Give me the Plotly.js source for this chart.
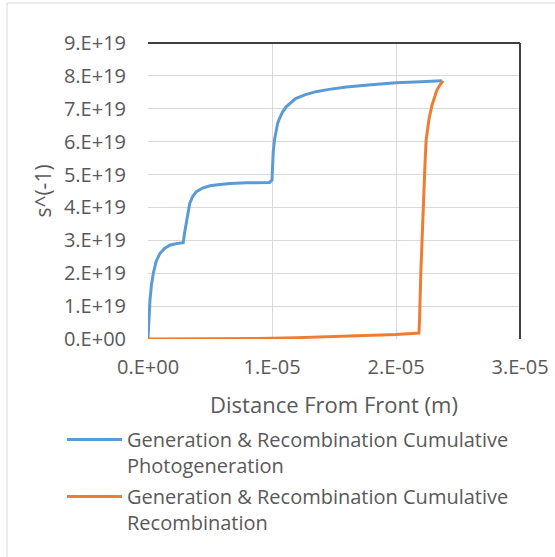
<!DOCTYPE html>
<html>
<head>
<meta charset="utf-8">
<script src="https://cdn.plot.ly/plotly-3.0.1.min.js"></script>
<style>html,body{margin:0;padding:0;background:#fff;}#chart{width:555px;height:557px;}</style>
</head>
<body>
<div id="chart"></div>
<script>
// Distance from front (m) and cumulative rates (s^-1)
const photoX = [0, 0.004e-5, 0.008e-5, 0.016e-5, 0.028e-5, 0.043e-5, 0.065e-5, 0.096e-5, 0.135e-5, 0.18e-5, 0.23e-5, 0.284e-5,
  0.296e-5, 0.31e-5, 0.323e-5, 0.337e-5, 0.36e-5, 0.39e-5, 0.44e-5, 0.5e-5, 0.58e-5, 0.66e-5, 0.8e-5, 0.98e-5,
  1.0e-5, 1.005e-5, 1.01e-5, 1.02e-5, 1.03e-5, 1.045e-5, 1.06e-5, 1.085e-5, 1.114e-5, 1.15e-5, 1.19e-5, 1.27e-5, 1.355e-5, 1.46e-5,
  1.6e-5, 1.8e-5, 2.0e-5, 2.2e-5, 2.37e-5];
const photoY = [0, 0.45e19, 0.8e19, 1.19e19, 1.65e19, 2.0e19, 2.35e19, 2.6e19, 2.76e19, 2.86e19, 2.9e19, 2.93e19,
  3.25e19, 3.6e19, 3.9e19, 4.13e19, 4.33e19, 4.48e19, 4.59e19, 4.66e19, 4.7e19, 4.73e19, 4.75e19, 4.76e19,
  4.83e19, 5.3e19, 5.7e19, 6.05e19, 6.3e19, 6.55e19, 6.7e19, 6.9e19, 7.06e19, 7.18e19, 7.31e19, 7.43e19, 7.52e19, 7.59e19,
  7.66e19, 7.73e19, 7.79e19, 7.82e19, 7.85e19];
const recombX = [0, 0.5e-5, 1.0e-5, 1.2e-5, 1.46e-5, 1.8e-5, 2.0e-5, 2.185e-5, 2.19e-5, 2.2e-5, 2.21e-5, 2.217e-5,
  2.225e-5, 2.233e-5, 2.243e-5, 2.253e-5, 2.265e-5, 2.29e-5, 2.31e-5, 2.33e-5, 2.355e-5, 2.38e-5];
const recombY = [0, 0, 0.02e19, 0.04e19, 0.07e19, 0.11e19, 0.14e19, 0.18e19, 0.6e19, 2.0e19, 3.2e19, 4.02e19,
  4.7e19, 5.24e19, 6.05e19, 6.4e19, 6.66e19, 7.11e19, 7.37e19, 7.57e19, 7.73e19, 7.85e19];
const photoName = 'Generation & Recombination Cumulative<br>Photogeneration';
const recombName = 'Generation & Recombination Cumulative<br>Recombination';
const xTickVals = [0, 1e-5, 2e-5, 3e-5];
const xTickText = ['0.E+00', '1.E-05', '2.E-05', '3.E-05'];
const yTickVals = [0, 1e19, 2e19, 3e19, 4e19, 5e19, 6e19, 7e19, 8e19, 9e19];
const yTickText = ['0.E+00', '1.E+19', '2.E+19', '3.E+19', '4.E+19', '5.E+19', '6.E+19', '7.E+19', '8.E+19', '9.E+19'];

const FONT = 'Open Sans, DejaVu Sans, sans-serif';
const GRAY = '#595959';
const traces = [
  {x: photoX, y: photoY, name: photoName, legendgroup: 'g1', type: 'scatter', mode: 'lines', line: {color: '#5B9BD5', width: 3}},
  {x: recombX, y: recombY, name: recombName, legendgroup: 'g2', type: 'scatter', mode: 'lines', line: {color: '#ED7D31', width: 3}}
];
const L = 148, R = 520, T = 43, B = 339;
const pw = R - L, ph = B - T;
const px = v => (v - L) / pw;
const py = v => (B - v) / ph;
const layout = {
  width: 555, height: 557,
  margin: {l: L, r: 555 - R, t: T, b: 557 - B, pad: 0},
  paper_bgcolor: '#fff', plot_bgcolor: '#fff',
  font: {family: FONT, color: GRAY, size: 20},
  showlegend: true,
  xaxis: {
    range: [0, 3e-5], tickvals: xTickVals, ticktext: xTickText,
    showgrid: true, gridcolor: '#d9d9d9', gridwidth: 1, zeroline: false, showline: false,
    ticks: 'outside', ticklen: 10, tickcolor: 'rgba(0,0,0,0)',
    tickfont: {family: FONT, color: GRAY, size: 20},
    title: {text: 'Distance From Front (m)', font: {family: FONT, color: GRAY, size: 22}, standoff: 18},
    automargin: false, fixedrange: true
  },
  yaxis: {
    range: [0, 9e19], tickvals: yTickVals, ticktext: yTickText,
    showgrid: true, gridcolor: '#d9d9d9', gridwidth: 1, zeroline: false, showline: false,
    ticks: 'outside', ticklen: 17, tickcolor: 'rgba(0,0,0,0)',
    tickfont: {family: FONT, color: GRAY, size: 20},
    title: {text: 's^(-1)', font: {family: FONT, color: GRAY, size: 21}, standoff: 6},
    automargin: false, fixedrange: true
  },
  legend: {
    x: px(62), y: py(420), xanchor: 'left', yanchor: 'top',
    orientation: 'v', valign: 'top', itemwidth: 55, traceorder: 'grouped',
    font: {family: FONT, color: GRAY, size: 20},
    bgcolor: 'rgba(0,0,0,0)', tracegroupgap: 2
  },
  shapes: [
    {type: 'line', xref: 'paper', yref: 'paper', x0: 0, x1: 1, y0: 1, y1: 1, line: {color: '#404040', width: 2}},
    {type: 'line', xref: 'paper', yref: 'paper', x0: 1, x1: 1, y0: 0, y1: 1, line: {color: '#404040', width: 2}},
    {type: 'line', xref: 'paper', yref: 'paper', x0: px(7), x1: px(560), y0: py(3), y1: py(3), line: {color: '#d9d9d9', width: 1}},
    {type: 'line', xref: 'paper', yref: 'paper', x0: px(7), x1: px(7), y0: py(3), y1: py(560), line: {color: '#d9d9d9', width: 1}}
  ]
};
Plotly.newPlot('chart', traces, layout, {staticPlot: true, displayModeBar: false});
</script>
</body>
</html>
